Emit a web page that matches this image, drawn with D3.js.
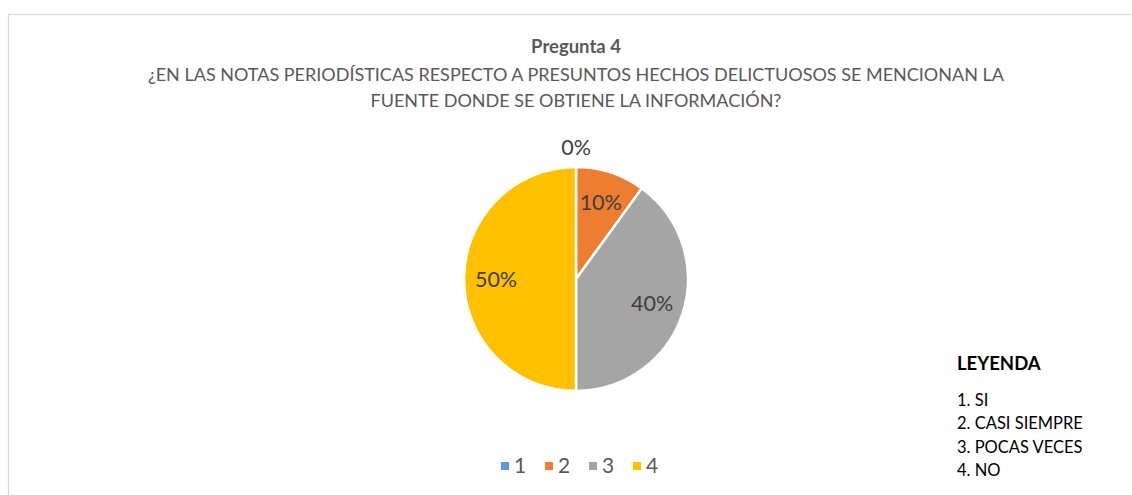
<!DOCTYPE html>
<html>
<head>
<meta charset="utf-8">
<script src="https://cdn.jsdelivr.net/npm/d3@7"></script>
<style>
  body { margin: 0; background: #fff; }
  text { font-family: Lato, "Open Sans", sans-serif; }
</style>
</head>
<body>
<div id="chart"></div>
<script>
// data
var categories = ["1", "2", "3", "4"];
var values = [0, 10, 40, 50];
var colors = ["#5B9BD5", "#ED7D31", "#A5A5A5", "#FFC000"];
var titleLines = ["¿EN LAS NOTAS PERIODÍSTICAS RESPECTO A PRESUNTOS HECHOS DELICTUOSOS SE MENCIONAN LA",
    "FUENTE DONDE SE OBTIENE LA INFORMACIÓN?"];
var leyenda = ["1. SI", "2. CASI SIEMPRE", "3. POCAS VECES", "4. NO"];

var width = 1132, height = 495;
var svg = d3.select("#chart").append("svg")
    .attr("width", width)
    .attr("height", height);

// chart border
svg.append("rect")
    .attr("x", 8.5).attr("y", 14.5)
    .attr("width", 1140).attr("height", 500)
    .attr("fill", "none")
    .attr("stroke", "#D9D9D9")
    .attr("stroke-width", 1.2);

// titles
svg.append("text")
    .attr("x", 576).attr("y", 53)
    .attr("text-anchor", "middle")
    .attr("font-size", 18.5).attr("font-weight", "bold")
    .attr("fill", "#595959")
    .text("Pregunta 4");

svg.selectAll(".sub").data(titleLines).enter().append("text")
    .attr("x", 576)
    .attr("y", (d, i) => 81 + i * 26)
    .attr("text-anchor", "middle")
    .attr("font-size", 18)
    .attr("fill", "#595959")
    .text(d => d);

// pie
var cx = 576, cy = 279, r = 112;
var pie = d3.pie().sort(null).value(d => d);
var arcs = pie(values);
var arc = d3.arc().innerRadius(0).outerRadius(r);
var labelArc = d3.arc().innerRadius(80).outerRadius(80);
var outArc = d3.arc().innerRadius(r + 20).outerRadius(r + 20);

var g = svg.append("g").attr("transform", "translate(" + cx + "," + cy + ")");

g.selectAll("path").data(arcs).enter().append("path")
    .attr("d", arc)
    .attr("fill", (d, i) => colors[i])
    .attr("stroke", "#fff")
    .attr("stroke-width", 2.5)
    .attr("stroke-linejoin", "round");

g.selectAll(".lbl").data(arcs).enter().append("text")
    .attr("transform", function(d) {
        var c = d.data === 0 ? outArc.centroid(d) : labelArc.centroid(d);
        return "translate(" + c + ")";
    })
    .attr("dy", "0.35em")
    .attr("text-anchor", "middle")
    .attr("font-size", 21.5)
    .attr("fill", "#404040")
    .text(d => d.data + "%");

// bottom legend
var leg = svg.append("g").attr("transform", "translate(500,466)");
var item = leg.selectAll("g").data(categories).enter().append("g")
    .attr("transform", (d, i) => "translate(" + (i * 44) + ",0)");
item.append("rect")
    .attr("x", 1).attr("y", -4)
    .attr("width", 8).attr("height", 8)
    .attr("fill", (d, i) => colors[i]);
item.append("text")
    .attr("x", 14).attr("dy", "0.35em")
    .attr("font-size", 21)
    .attr("fill", "#595959")
    .text(d => d);

// side legend
svg.append("text")
    .attr("x", 957).attr("y", 370)
    .attr("font-size", 18.5).attr("font-weight", "bold")
    .attr("fill", "#000")
    .text("LEYENDA");

svg.selectAll(".ley").data(leyenda).enter().append("text")
    .attr("x", 957)
    .attr("y", (d, i) => 406 + i * 23.3)
    .attr("font-size", 16.5)
    .attr("fill", "#000")
    .text(d => d);
</script>
</body>
</html>
